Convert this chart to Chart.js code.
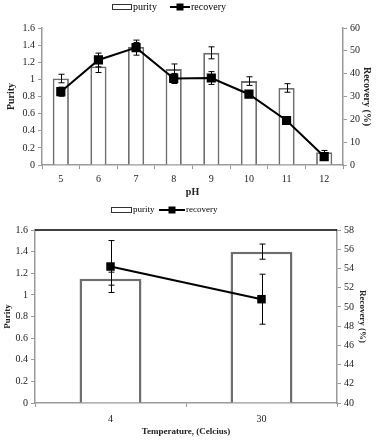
<!DOCTYPE html>
<html>
<head>
<meta charset="utf-8">
<script src="https://cdn.jsdelivr.net/npm/chart.js@4.4.1/dist/chart.umd.min.js"></script>
<style>
  body { margin: 0; background: #fff; }
  .wrap { position: absolute; left: 0; width: 377px; }
  #top { top: 0; height: 205px; }
  #bottom { top: 205px; height: 235px; }
</style>
</head>
<body>
<div class="wrap" id="top"><canvas id="phChart"></canvas></div>
<div class="wrap" id="bottom"><canvas id="tempChart"></canvas></div>
<script>
// pH study
const phLabels = ["5", "6", "7", "8", "9", "10", "11", "12"];
const phPurity = [1.01, 1.15, 1.38, 1.12, 1.31, 0.98, 0.90, 0.15];
const phPurityErr = [0.05, 0.07, 0.05, 0.06, 0.07, 0.05, 0.05, 0.02];
const phRecovery = [32.1, 46.0, 51.4, 37.9, 38.1, 31.0, 19.5, 3.7];
const phRecoveryErr = [2.0, 3.0, 3.3, 2.2, 2.8, 1.5, 1.0, 1.0];
const phPurityTicks = [0, 0.2, 0.4, 0.6, 0.8, 1, 1.2, 1.4, 1.6];
const phRecoveryTicks = [0, 10, 20, 30, 40, 50, 60];

// temperature study
const tempLabels = ["4", "30"];
const tempPurity = [1.15, 1.40];
const tempPurityErr = [0.06, 0.07];
const tempRecovery = [54.2, 50.8];
const tempRecoveryErr = [2.7, 2.6];
const tempPurityTicks = [0, 0.2, 0.4, 0.6, 0.8, 1, 1.2, 1.4, 1.6];
const tempRecoveryTicks = [40, 42, 44, 46, 48, 50, 52, 54, 56, 58];

Chart.defaults.font.family = "'Liberation Serif', 'Times New Roman', serif";
Chart.defaults.color = "#222";
Chart.defaults.animation = false;

const AXIS_GRAY = "#9a9a9a";

// error bars drawn from the dataset's own scale
const errorBarPlugin = {
  id: "errorBars",
  afterDatasetsDraw(chart) {
    const ctx = chart.ctx;
    chart.data.datasets.forEach((ds, di) => {
      if (!ds.errors) return;
      const meta = chart.getDatasetMeta(di);
      const yScale = chart.scales[ds.yAxisID];
      ctx.save();
      ctx.strokeStyle = "#000";
      ctx.lineWidth = 1;
      meta.data.forEach((el, i) => {
        const v = ds.data[i];
        const e = ds.errors[i];
        const x = Math.round(el.x) + 0.5;
        const yHi = yScale.getPixelForValue(v + e);
        const yLo = yScale.getPixelForValue(v - e);
        ctx.beginPath();
        ctx.moveTo(x, yHi);
        ctx.lineTo(x, yLo);
        ctx.moveTo(x - 3, yHi);
        ctx.lineTo(x + 3, yHi);
        ctx.moveTo(x - 3, yLo);
        ctx.lineTo(x + 3, yLo);
        ctx.stroke();
      });
      ctx.restore();
    });
  },
};

// small legend like the original figure
const figLegendPlugin = {
  id: "figLegend",
  afterDraw(chart, args, opts) {
    const ctx = chart.ctx;
    const [barDs, lineDs] = [chart.data.datasets[0], chart.data.datasets[1]];
    ctx.save();
    ctx.font = opts.size + "px 'Liberation Serif', serif";
    ctx.fillStyle = "#000";
    ctx.textBaseline = "middle";
    // purity box
    ctx.strokeStyle = "#333";
    ctx.lineWidth = 1;
    ctx.strokeRect(opts.boxX + 0.5, opts.y - 2.5, opts.boxW, 5);
    ctx.fillText(barDs.label, opts.boxX + opts.boxW + 2, opts.y);
    // recovery line + marker
    ctx.lineWidth = 2;
    ctx.strokeStyle = "#000";
    ctx.beginPath();
    ctx.moveTo(opts.lineX, opts.y);
    ctx.lineTo(opts.lineX + opts.lineW, opts.y);
    ctx.stroke();
    const mx = opts.lineX + opts.lineW / 2;
    ctx.fillRect(mx - 3.5, opts.y - 3.5, 7, 7);
    ctx.fillText(lineDs.label, opts.lineX + opts.lineW + 1, opts.y);
    ctx.restore();
  },
};

const topFramePlugin = {
  id: "topFrame",
  afterDraw(chart, args, opts) {
    if (!opts.show) return;
    const { ctx, chartArea } = chart;
    ctx.save();
    ctx.strokeStyle = "#000";
    ctx.lineWidth = 1.5;
    ctx.beginPath();
    ctx.moveTo(chartArea.left, chartArea.top);
    ctx.lineTo(chartArea.right, chartArea.top);
    ctx.stroke();
    ctx.restore();
  },
};

function fmt(v) {
  return String(+Number(v).toFixed(1));
}

function makeChart(id, cfg) {
  const ctx = document.getElementById(id).getContext("2d");
  return new Chart(ctx, {
    type: "bar",
    data: {
      labels: cfg.labels,
      datasets: [
        {
          type: "bar",
          label: "purity",
          data: cfg.purity,
          errors: cfg.purityErr,
          yAxisID: "y",
          backgroundColor: "#fff",
          borderColor: "#6e6e6e",
          borderWidth: cfg.barBorder,
          categoryPercentage: 1,
          barPercentage: cfg.barPct,
          order: 1,
        },
        {
          type: "line",
          label: "recovery",
          data: cfg.recovery,
          errors: cfg.recoveryErr,
          yAxisID: "y1",
          borderColor: "#000",
          borderWidth: 2,
          backgroundColor: "#000",
          pointStyle: "rect",
          pointRadius: cfg.pointRadius,
          pointBorderWidth: 0,
          tension: 0,
          order: 0,
        },
      ],
    },
    options: {
      responsive: true,
      maintainAspectRatio: false,
      layout: { padding: { top: cfg.padTop, left: 0, right: 0, bottom: 0 } },
      plugins: {
        legend: { display: false },
        tooltip: { enabled: false },
        figLegend: cfg.legend,
        topFrame: { show: cfg.topFrame },
      },
      scales: {
        x: {
          afterFit: (s) => { s.height = cfg.xHeight; },
          grid: {
            display: true,
            drawOnChartArea: false,
            offset: true,
            tickLength: 4,
            color: AXIS_GRAY,
          },
          border: { display: true, color: AXIS_GRAY, width: 1.5 },
          ticks: { font: { size: 10 }, padding: cfg.xTickPad, maxRotation: 0 },
          title: {
            display: true,
            text: cfg.xTitle,
            font: { size: cfg.titleSize, weight: "bold" },
            padding: { top: 0, bottom: cfg.xTitlePad },
          },
        },
        y: {
          position: "left",
          min: cfg.yTicks[0],
          max: cfg.yTicks[cfg.yTicks.length - 1],
          afterBuildTicks: (s) => { s.ticks = cfg.yTicks.map((v) => ({ value: v })); },
          afterFit: (s) => { s.width = cfg.yWidth; },
          grid: { display: true, drawOnChartArea: false, tickLength: 4, color: AXIS_GRAY },
          border: { display: true, color: AXIS_GRAY, width: 1.5 },
          ticks: { font: { size: 10 }, padding: 3, callback: fmt },
          title: {
            display: true,
            text: "Purity",
            font: { size: cfg.titleSize, weight: "bold" },
            padding: { top: cfg.yTitlePad, bottom: 0 },
          },
        },
        y1: {
          position: "right",
          min: cfg.y1Ticks[0],
          max: cfg.y1Ticks[cfg.y1Ticks.length - 1],
          afterBuildTicks: (s) => { s.ticks = cfg.y1Ticks.map((v) => ({ value: v })); },
          afterFit: (s) => { s.width = cfg.y1Width; },
          grid: { display: true, drawOnChartArea: false, tickLength: 4, color: AXIS_GRAY },
          border: { display: true, color: AXIS_GRAY, width: 1.5 },
          ticks: { font: { size: 10 }, padding: 3, callback: fmt },
          title: {
            display: true,
            text: "Recovery (%)",
            font: { size: cfg.titleSize, weight: "bold" },
            padding: { top: cfg.y1TitlePad, bottom: 0 },
          },
        },
      },
    },
    plugins: [errorBarPlugin, figLegendPlugin, topFramePlugin],
  });
}

makeChart("phChart", {
  labels: phLabels,
  purity: phPurity,
  purityErr: phPurityErr,
  recovery: phRecovery,
  recoveryErr: phRecoveryErr,
  yTicks: phPurityTicks,
  y1Ticks: phRecoveryTicks,
  xTitle: "pH",
  barPct: 0.43,
  barBorder: 1.8,
  pointRadius: 6.5,
  padTop: 28,
  xHeight: 40,
  yWidth: 42,
  y1Width: 34,
  xTickPad: 4,
  xTitlePad: 7,
  yTitlePad: 5,
  y1TitlePad: 4,
  titleSize: 10,
  topFrame: false,
  legend: { y: 7, boxX: 112, boxW: 19, lineX: 170, lineW: 20, size: 10 },
});

makeChart("tempChart", {
  labels: tempLabels,
  purity: tempPurity,
  purityErr: tempPurityErr,
  recovery: tempRecovery,
  recoveryErr: tempRecoveryErr,
  yTicks: tempPurityTicks,
  y1Ticks: tempRecoveryTicks,
  xTitle: "Temperature, (Celcius)",
  barPct: 0.41,
  barBorder: 2.5,
  pointRadius: 6,
  padTop: 25,
  xHeight: 37,
  yWidth: 35,
  y1Width: 40,
  xTickPad: 6,
  xTitlePad: 3,
  yTitlePad: 2,
  y1TitlePad: 9,
  titleSize: 9,
  topFrame: true,
  legend: { y: 5, boxX: 111, boxW: 20, lineX: 159, lineW: 26, size: 9 },
});
</script>
</body>
</html>
